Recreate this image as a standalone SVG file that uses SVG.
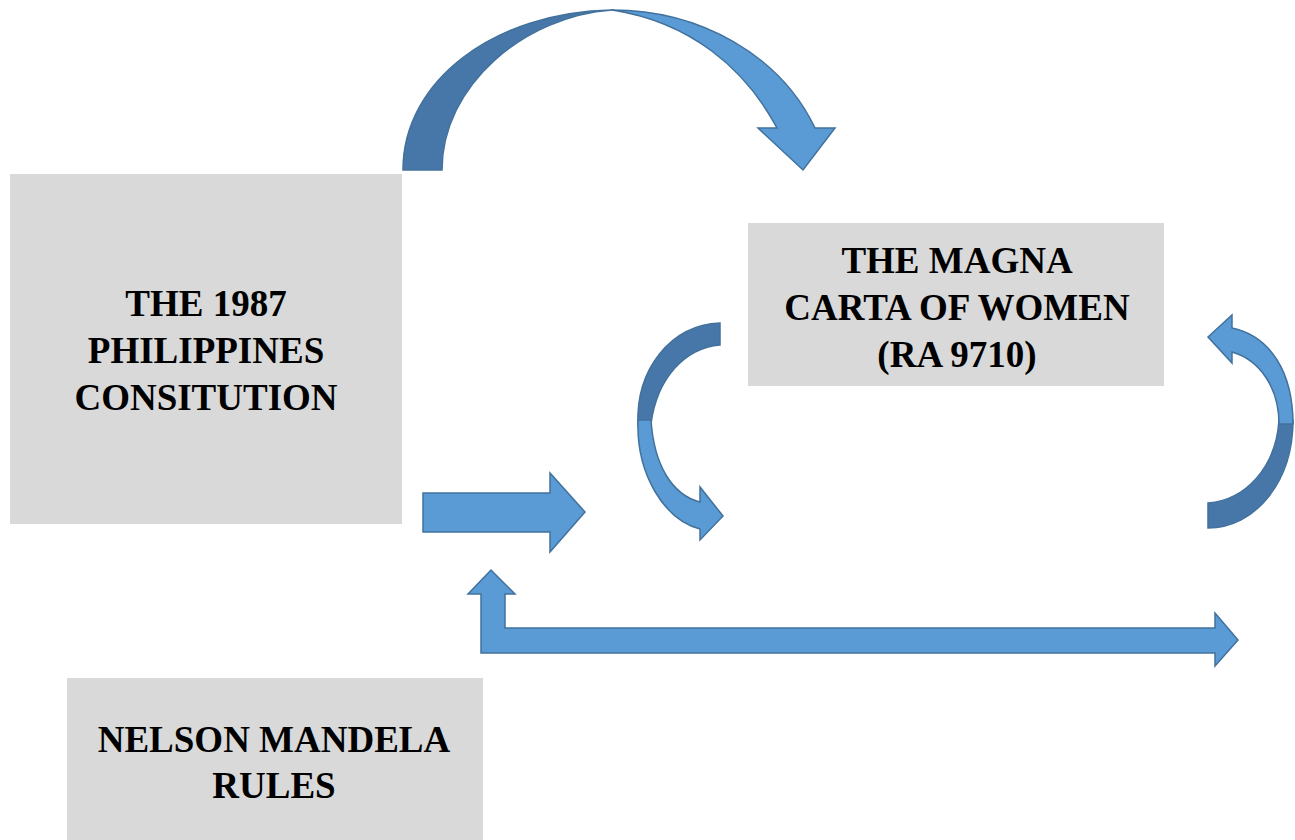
<svg xmlns="http://www.w3.org/2000/svg" width="1295" height="840" viewBox="0 0 1295 840">
<style>
.box{fill:#D9D9D9;}
.lbl{font-family:"Liberation Serif","Times New Roman",serif;font-weight:bold;font-size:37px;fill:#000;text-anchor:middle;}
.lt{fill:#5B9BD5;stroke:#41719C;stroke-width:1.5;stroke-linejoin:miter;}
.dk{fill:#4777A8;stroke:#41719C;stroke-width:1.5;}
</style>
<rect width="1295" height="840" fill="#fff"/>
<g id="node-constitution">
<rect class="box" x="10" y="174" width="392" height="350"/>
<text class="lbl" x="206" y="316">THE 1987</text>
<text class="lbl" x="206" y="363">PHILIPPINES</text>
<text class="lbl" x="206" y="410">CONSITUTION</text>
</g>
<g id="node-magna-carta">
<rect class="box" x="748" y="223" width="416" height="163"/>
<text class="lbl" x="957" y="273">THE MAGNA</text>
<text class="lbl" x="957" y="320">CARTA OF WOMEN</text>
<text class="lbl" x="957" y="367">(RA 9710)</text>
</g>
<g id="node-mandela">
<rect class="box" x="67" y="678" width="416" height="170"/>
<text class="lbl" x="274" y="752">NELSON MANDELA</text>
<text class="lbl" x="274" y="798">RULES</text>
</g>
<g id="connectors">
<!-- top curved arrow -->
<path class="dk" d="M403,170 C403,80 495,12 612,10 C525,16 442,85 442,170 Z"/>
<path class="lt" d="M612,10 C700,10 780,55 815,128 L835,128 L803,170 L758,128 L777,128 C745,68 690,22 612,10 Z"/>
<!-- left curved arrow -->
<path class="dk" d="M720,323 L720,345 C685,348 657,378 651,424 L638,424 C636,370 670,325 720,323 Z"/>
<path class="lt" d="M638,420 C636,475 665,520 700,529 L700,540 L723,516 L700,487 L700,502 C672,495 654,465 651,420 Z"/>
<!-- right curved arrow -->
<path class="dk" d="M1208,503 L1208,528 C1255,528 1293,482 1293,420 L1279,420 C1276,468 1245,500 1208,503 Z"/>
<path class="lt" d="M1293,424 C1293,372 1270,336 1232,328 L1232,315 L1208,337 L1232,363 L1232,352 C1260,360 1279,388 1279,424 Z"/>
<!-- straight arrow -->
<polygon class="lt" points="423,493 550,493 550,473 585,512 550,552 550,532 423,532"/>
<!-- bent arrow -->
<polygon class="lt" points="481,653 1215,653 1215,666 1238,640 1215,613 1215,628 505,628 505,594 515,594 491,570 468,594 481,594"/>
</g>
</svg>
